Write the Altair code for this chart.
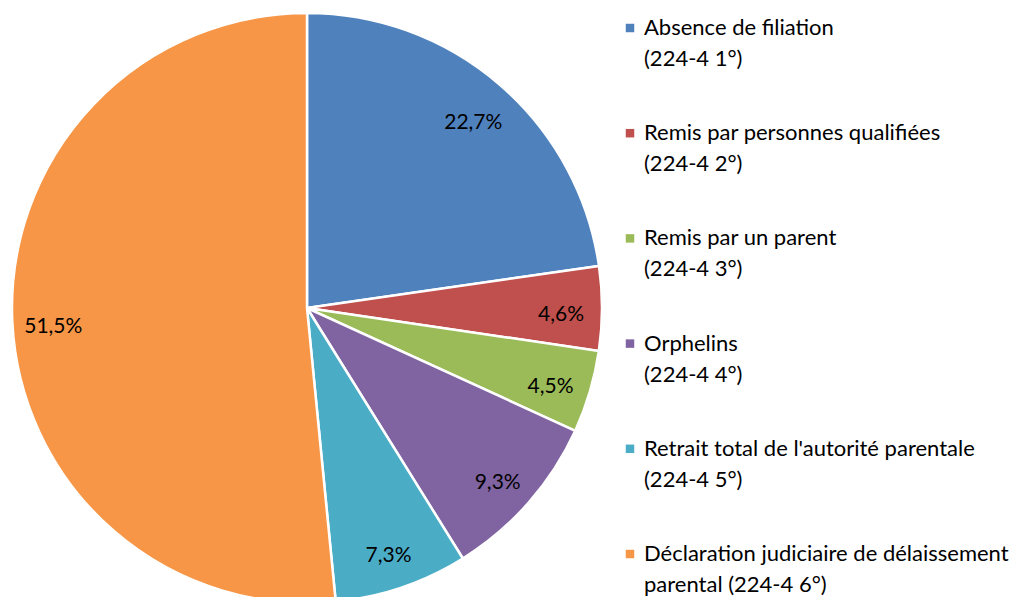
import altair as alt
import pandas as pd

categories = [
    "Absence de filiation (224-4 1°)",
    "Remis par personnes qualifiées (224-4 2°)",
    "Remis par un parent (224-4 3°)",
    "Orphelins (224-4 4°)",
    "Retrait total de l'autorité parentale (224-4 5°)",
    "Déclaration judiciaire de délaissement parental (224-4 6°)",
]
values = [22.7, 4.6, 4.5, 9.3, 7.3, 51.5]
labels = ["22,7%", "4,6%", "4,5%", "9,3%", "7,3%", "51,5%"]
legend_line1 = [
    "Absence de filiation",
    "Remis par personnes qualifiées",
    "Remis par un parent",
    "Orphelins",
    "Retrait total de l'autorité parentale",
    "Déclaration judiciaire de délaissement",
]
legend_line2 = [
    "(224-4 1°)",
    "(224-4 2°)",
    "(224-4 3°)",
    "(224-4 4°)",
    "(224-4 5°)",
    "parental (224-4 6°)",
]
colors = ["#4F81BD", "#C0504D", "#9BBB59", "#8064A2", "#4BACC6", "#F79646"]

df = pd.DataFrame({
    "cat": categories,
    "value": values,
    "label": labels,
    "idx": list(range(len(categories))),
    "l1": legend_line1,
    "l2": legend_line2,
})

FONT = "Lato"
FS_PIE = 21
FS_LEG = 22
CX, CY, R = 299, 300, 295

color = alt.Color("cat:N", scale=alt.Scale(domain=categories, range=colors), legend=None)
theta = alt.Theta("value:Q", stack=True)
order = alt.Order("idx:Q")

base = alt.Chart(df)

pie = base.mark_arc(outerRadius=R, stroke="white", strokeWidth=2.5).encode(
    theta=theta, color=color, order=order,
    x=alt.value(CX), y=alt.value(CY),
)

txt = base.mark_text(radius=254, dy=7, font=FONT, fontSize=FS_PIE, color="black").encode(
    theta=theta, order=order, text="label:N",
    x=alt.value(CX), y=alt.value(CY),
)

yleg = alt.Y("idx:Q", scale=alt.Scale(domain=[0, 5], range=[20, 546]), axis=None)

sym = base.mark_square(size=72, opacity=1).encode(
    x=alt.value(622), y=yleg, color=color,
)
t1 = base.mark_text(align="left", baseline="middle", font=FONT, fontSize=FS_LEG, color="black").encode(
    x=alt.value(636), y=yleg, text="l1:N",
)
t2 = base.mark_text(align="left", baseline="middle", dy=31, font=FONT, fontSize=FS_LEG, color="black").encode(
    x=alt.value(636), y=yleg, text="l2:N",
)

chart = alt.layer(pie, txt, sym, t1, t2).properties(
    width=1002, height=589,
    autosize=alt.AutoSizeParams(type="none"),
    padding=0,
).configure_view(stroke=None)

chart.save("out.html", embed_options={"renderer": "svg", "actions": False})
